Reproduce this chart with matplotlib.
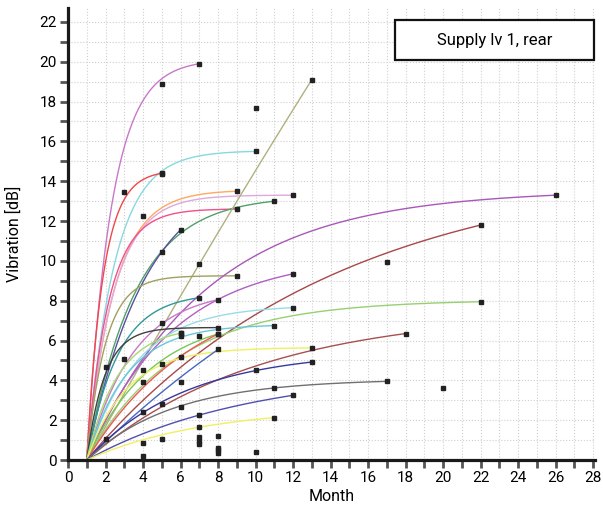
import numpy as np
import matplotlib
matplotlib.use("Agg")
import matplotlib.pyplot as plt
from matplotlib.patches import Rectangle
from matplotlib.ticker import MultipleLocator

plt.rcParams['font.family'] = ['Roboto', 'DejaVu Sans']

# fitted curves: all start at month 1, value 0 and end at a measured point
end_month = [7, 10, 5, 9, 12, 9, 11, 6, 13, 9, 26, 22, 12, 7, 8, 12, 22, 8, 11, 6, 8, 8, 13, 18, 8, 13, 17, 12, 11]
end_value = [19.9, 15.5, 14.4, 13.5, 13.3, 12.6, 13.0, 11.56, 19.1, 9.25, 13.3, 11.8, 9.35, 8.15, 8.05,
             7.65, 7.95, 6.65, 6.75, 6.37, 6.33, 6.33, 5.63, 6.35, 5.55, 4.92, 3.95, 3.25, 2.13]
rate = [0.76, 0.68, 1.15, 0.68, 0.7, 0.85, 0.39, 0.32, 0.01, 1.0, 0.157, 0.075, 0.22, 0.6, 0.4,
        0.38, 0.21, 1.05, 0.47, 0.6, 0.29, 0.17, 0.47, 0.11, 0.05, 0.19, 0.22, 0.115, 0.16]
colors = ['#c878c8', '#88d8e0', '#f04848', '#ffa860', '#e0a8dc', '#f0508c', '#50a068', '#5850a0',
          '#b0b080', '#a0a060', '#a858b8', '#a84848', '#b060c0', '#309898', '#c878c8', '#98dce8',
          '#98d070', '#404040', '#68c8d8', '#a8d870', '#78c858', '#f05858', '#f0f060', '#a85050',
          '#4868c0', '#3838a0', '#707070', '#5050b0', '#f0f060']

# other measured points
pt_month = [5, 3, 4, 10, 5, 5, 7, 17, 20, 2, 3, 4, 4, 5, 6, 6, 5, 4, 6, 7, 7, 7, 7, 7, 2, 4, 5, 4,
            8, 8, 8, 8, 10, 5, 6, 6, 7, 11, 10]
pt_value = [18.9, 13.45, 12.26, 17.69, 14.37, 10.47, 9.85, 9.93, 3.63, 4.66, 5.06, 4.52, 3.94, 4.82,
            5.16, 3.94, 2.81, 2.43, 2.65, 2.26, 1.64, 1.14, 0.95, 0.8, 1.04, 0.85, 1.04, 0.2,
            1.22, 0.6, 0.48, 0.35, 0.42, 6.87, 6.37, 6.23, 6.23, 3.63, 4.52]

fig = plt.figure(figsize=(6.03, 5.08), dpi=100)
ax = fig.add_axes([68 / 603, 48 / 508, 527 / 603, 452 / 508])

for xe, ye, k, c in zip(end_month, end_value, rate, colors):
    t = np.linspace(0, xe - 1, 200)
    amp = ye / (1 - np.exp(-k * (xe - 1)))
    ax.plot(t + 1, amp * (1 - np.exp(-k * t)), color=c, lw=1.0, zorder=2)

ax.plot(end_month, end_value, 's', color='#222222', ms=2.6, zorder=3)
ax.plot(pt_month, pt_value, 's', color='#222222', ms=2.6, zorder=3)

ax.set_xlim(0, 28.1)
ax.set_ylim(0, 22.7)
ax.xaxis.set_major_locator(MultipleLocator(2))
ax.xaxis.set_minor_locator(MultipleLocator(1))
ax.yaxis.set_major_locator(MultipleLocator(2))
ax.yaxis.set_minor_locator(MultipleLocator(1))
ax.grid(True, which='both', color='#cfcfcf', ls=':', lw=0.8)
ax.set_axisbelow(True)

for s in ['top', 'right']:
    ax.spines[s].set_visible(False)
for s in ['left', 'bottom']:
    ax.spines[s].set_linewidth(2.3)
    ax.spines[s].set_color('#1a1a1a')
ax.tick_params(which='both', direction='out', length=6, width=2, color='#555555',
               labelsize=11, pad=2)

ax.set_xlabel('Month', fontsize=11.5)
ax.set_ylabel('Vibration [dB]', fontsize=11.5)
ax.xaxis.set_label_coords(0.5, -0.064)
ax.yaxis.set_label_coords(-0.088, 0.5)

box = Rectangle((395 / 603, 1 - 59.5 / 508), 199 / 603, 40 / 508, transform=fig.transFigure,
                facecolor='white', edgecolor='#111111', lw=1.6, zorder=10)
fig.patches.append(box)
fig.text(494.5 / 603, 1 - 40 / 508, 'Supply lv 1, rear', ha='center', va='center',
         fontsize=12, zorder=11)

fig.savefig('out.png', dpi=100)
